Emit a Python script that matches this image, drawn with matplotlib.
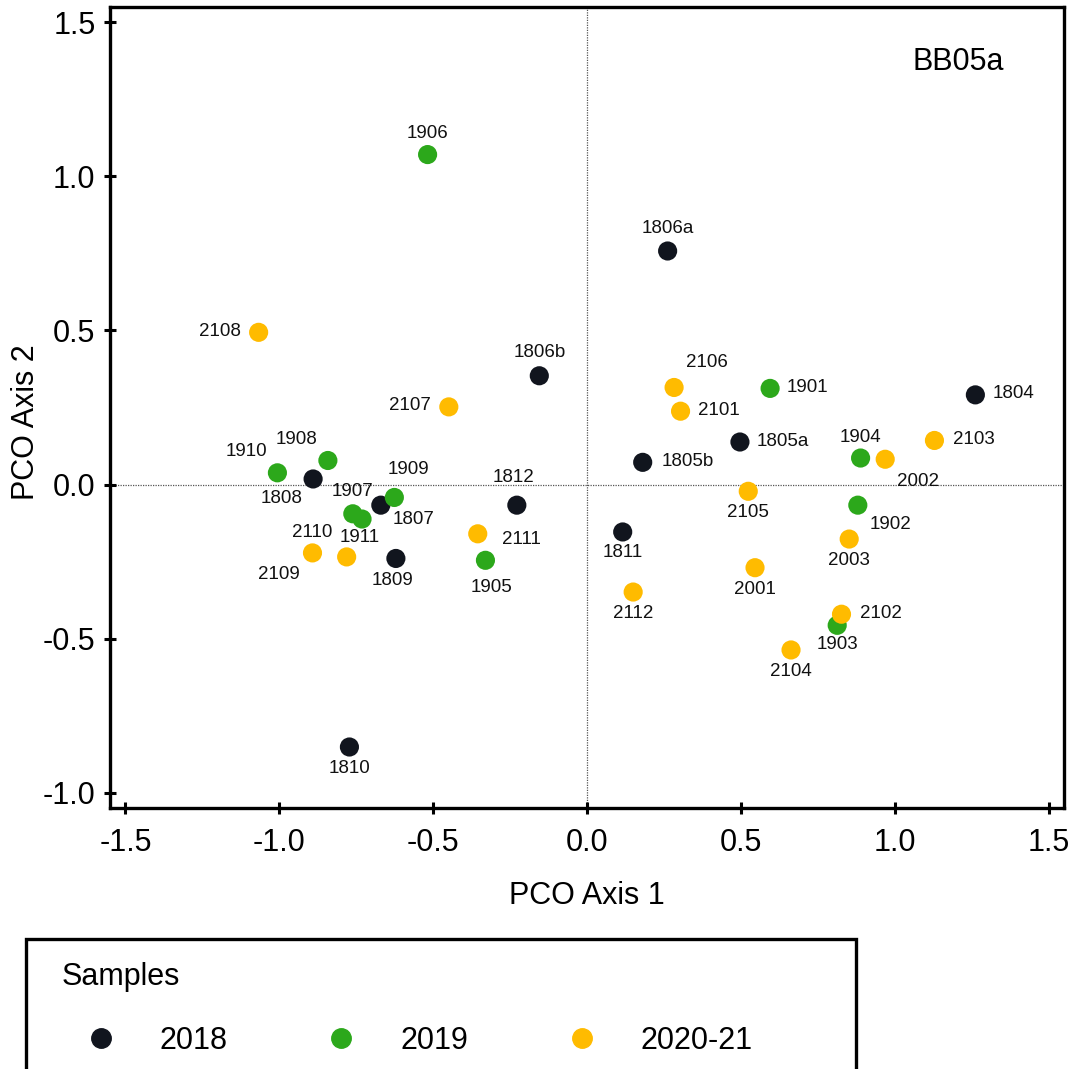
import numpy as np
import matplotlib.pyplot as plt
from matplotlib.lines import Line2D
from matplotlib.patches import Rectangle

plt.rcParams['font.family'] = ['Liberation Sans', 'DejaVu Sans']

# PCO scores
names_2018 = ['1806a', '1806b', '1804', '1805a', '1805b', '1812', '1811',
              '1808', '1807', '1809', '1810']
x_2018 = [0.262, -0.155, 1.262, 0.497, 0.181, -0.228, 0.116,
          -0.890, -0.670, -0.621, -0.772]
y_2018 = [0.758, 0.353, 0.291, 0.138, 0.072, -0.067, -0.154,
          0.018, -0.067, -0.240, -0.852]

names_2019 = ['1906', '1901', '1904', '1902', '1903', '1910', '1908',
              '1909', '1907', '1911', '1905']
x_2019 = [-0.518, 0.595, 0.889, 0.880, 0.813, -1.006, -0.842,
          -0.626, -0.761, -0.731, -0.330]
y_2019 = [1.071, 0.312, 0.086, -0.067, -0.457, 0.038, 0.078,
          -0.042, -0.095, -0.112, -0.246]

names_2021 = ['2108', '2107', '2106', '2101', '2103', '2002', '2105', '2003',
              '2001', '2102', '2104', '2112', '2111', '2109', '2110']
x_2021 = [-1.067, -0.449, 0.283, 0.304, 1.129, 0.969, 0.524, 0.852,
          0.546, 0.827, 0.663, 0.150, -0.355, -0.892, -0.781]
y_2021 = [0.494, 0.252, 0.315, 0.238, 0.143, 0.082, -0.022, -0.177,
          -0.270, -0.421, -0.537, -0.349, -0.160, -0.222, -0.235]

groups = ['2018', '2019', '2020-21']
colors = ['#11151e', '#2ca81b', '#ffbb00']

# label centre offsets from the point, in pixels (dx right, dy down)
label_offsets = {
    '1806a': (0, -21), '1806b': (0, -22), '1804': (38, 0), '1805a': (43, 0),
    '1805b': (45, 0), '1812': (-3, -27), '1811': (0, 22), '1808': (-32, 21),
    '1807': (33, 15), '1809': (-3, 23), '1810': (0, 22),
    '1906': (0, -20), '1901': (37, 0), '1904': (0, -20), '1902': (33, 20),
    '1903': (0, 20), '1910': (-31, -20), '1908': (-31, -20), '1909': (14, -27),
    '1907': (0, -21), '1911': (-2, 19), '1905': (6, 28),
    '2108': (-39, 0), '2107': (-39, 0), '2106': (33, -24), '2101': (38, 0),
    '2103': (39, 0), '2002': (33, 23), '2105': (0, 22), '2003': (0, 22),
    '2001': (0, 23), '2102': (39, 0), '2104': (0, 23), '2112': (0, 22),
    '2111': (44, 7), '2109': (-34, 23), '2110': (-34, -23),
}

fig = plt.figure(figsize=(10.77, 10.69), dpi=100)
ax = fig.add_axes([110 / 1077, 1 - 808 / 1069, 954 / 1077, 801 / 1069])

ax.axhline(0, color='#555555', lw=0.9, ls=(0, (1, 1)), zorder=1)
ax.axvline(0, color='#555555', lw=0.9, ls=(0, (1, 1)), zorder=1)

data = [(names_2018, x_2018, y_2018), (names_2019, x_2019, y_2019),
        (names_2021, x_2021, y_2021)]
for (names, xs, ys), col in zip(data, colors):
    ax.scatter(xs, ys, s=190, color=col, edgecolors='none', zorder=3)
    for n, xv, yv in zip(names, xs, ys):
        dx, dy = label_offsets[n]
        ax.annotate(n, (xv, yv), xytext=(dx, -dy + 1), textcoords='offset pixels',
                    ha='center', va='center', fontsize=13.5, color='#111111', zorder=4)

ax.set_xlim(-1.55, 1.55)
ax.set_ylim(-1.05, 1.55)
ax.set_xticks(np.arange(-1.5, 1.51, 0.5))
ax.set_yticks(np.arange(-1.0, 1.51, 0.5))
ax.set_xticklabels(['%.1f' % v for v in np.arange(-1.5, 1.51, 0.5)])
ax.set_yticklabels(['%.1f' % v for v in np.arange(-1.0, 1.51, 0.5)])
ax.tick_params(direction='inout', length=9, width=2.2, labelsize=22, colors='black')
ax.tick_params(axis='x', pad=10)
ax.tick_params(axis='y', pad=6)
for sp in ax.spines.values():
    sp.set_linewidth(2.4)

ax.set_xlabel('PCO Axis 1', fontsize=22, labelpad=16.5)
ax.set_ylabel('PCO Axis 2', fontsize=22)
ax.yaxis.set_label_coords(-0.072, 0.482)
ax.text(0.889, 0.931, 'BB05a', transform=ax.transAxes, fontsize=22, ha='center', va='center')

# legend box below the plot
fig.patches.append(Rectangle((26 / 1077, -0.05), 830 / 1077, 1.05 - 939 / 1069,
                             transform=fig.transFigure, fill=False, lw=2.4,
                             edgecolor='black'))
handles = [Line2D([], [], ls='none', marker='o', markersize=14, color=c) for c in colors]
leg = fig.legend(handles, groups, title='Samples', ncol=3, loc='upper left',
                 bbox_to_anchor=(62 / 1077, 1 - 962 / 1069), frameon=False,
                 fontsize=22, title_fontsize=22, alignment='left',
                 borderpad=0, borderaxespad=0, handlelength=2.53,
                 handletextpad=0.67, columnspacing=2.45, labelspacing=1.1)

fig.savefig('out.png', dpi=100)
